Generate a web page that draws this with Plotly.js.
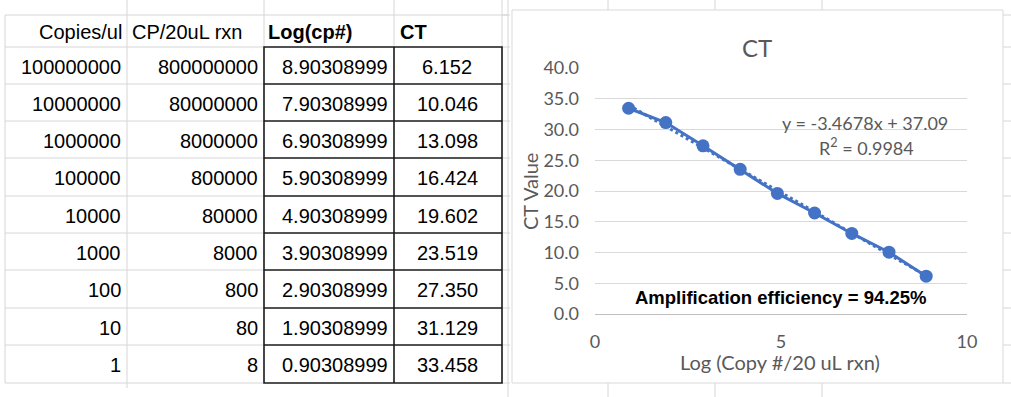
<!DOCTYPE html>
<html>
<head>
<meta charset="utf-8">
<script src="https://cdn.plot.ly/plotly-3.0.1.min.js"></script>
<style>html,body{margin:0;padding:0;background:#fff;}#chart{width:1011px;height:397px;}</style>
</head>
<body>
<div id="chart"></div>
<script>
// ---- data ----
const headers = ["Copies/ul", "CP/20uL rxn", "Log(cp#)", "CT"];
const copiesPerUl = ["100000000", "10000000", "1000000", "100000", "10000", "1000", "100", "10", "1"];
const cpPer20uL = ["800000000", "80000000", "8000000", "800000", "80000", "8000", "800", "80", "8"];
const logCp = [8.90308999, 7.90308999, 6.90308999, 5.90308999, 4.90308999, 3.90308999, 2.90308999, 1.90308999, 0.90308999];
const ctValues = [6.152, 10.046, 13.098, 16.424, 19.602, 23.519, 27.350, 31.129, 33.458];
const trendSlope = -3.4678;
const trendIntercept = 37.09;
const rSquared = "0.9984";
const efficiencyText = "Amplification efficiency = 94.25%";
const chartTitle = "CT";
const xTitle = "Log (Copy #/20 uL rxn)";
const yTitle = "CT Value";

// ---- layout helpers (pixel -> paper) ----
const W = 1011, H = 397;
const X = p => p / W;
const Y = p => 1 - p / H;

const rowEdges = [15, 47, 84, 121, 158, 196, 233, 270, 308, 345, 383];
const colEdges = [5, 127, 264, 394, 502];
const gridC = "#d6d6d6";
const blk = "#1a1a1a";

const shapes = [];
function line(x0, y0, x1, y1, color, width) {
  shapes.push({type: "line", xref: "paper", yref: "paper", x0: X(x0), y0: Y(y0), x1: X(x1), y1: Y(y1),
    line: {color: color, width: width}, layer: "below"});
}
// spreadsheet light gridlines
rowEdges.forEach((e, i) => {
  line(colEdges[0], e, i === 0 ? 508 : colEdges[2], e, gridC, 1);
  line(colEdges[4], e, 510, e, gridC, 1);
  line(1003, e, W, e, gridC, 1);
});
line(colEdges[0], rowEdges[0], colEdges[0], rowEdges[10], gridC, 1);
line(colEdges[1], 0, colEdges[1], 388, gridC, 1);
line(colEdges[2], 0, colEdges[2], rowEdges[1], gridC, 1);
line(colEdges[3], 0, colEdges[3], rowEdges[1], gridC, 1);
line(colEdges[4], 0, colEdges[4], rowEdges[1], gridC, 1);
line(508, 0, 508, H, gridC, 1);
[608, 715, 822].forEach(x => { line(x, 0, x, 10, gridC, 1); line(x, 383, x, H, gridC, 1); });
// black bordered block (columns 3-4)
shapes.push({type: "rect", xref: "paper", yref: "paper", x0: X(colEdges[2]), x1: X(colEdges[4]), y0: Y(rowEdges[1]), y1: Y(rowEdges[10]),
  line: {color: blk, width: 1.6}, fillcolor: "rgba(0,0,0,0)"});
for (let i = 2; i < rowEdges.length - 1; i++) {
  shapes.push({type: "line", xref: "paper", yref: "paper", x0: X(colEdges[2]), x1: X(colEdges[4]), y0: Y(rowEdges[i]), y1: Y(rowEdges[i]),
    line: {color: blk, width: 1.6}});
}
shapes.push({type: "line", xref: "paper", yref: "paper", x0: X(colEdges[3]), x1: X(colEdges[3]), y0: Y(rowEdges[1]), y1: Y(rowEdges[10]),
  line: {color: blk, width: 1.6}});
// chart frame
shapes.push({type: "rect", xref: "paper", yref: "paper", x0: X(512), x1: X(1003), y0: Y(10), y1: Y(383),
  line: {color: "#d9d9d9", width: 1}, fillcolor: "rgba(0,0,0,0)", layer: "below"});

// ---- table text ----
const annotations = [];
const tFont = {family: "Liberation Sans, Arial, sans-serif", size: 20, color: "#000"};
const tBold = {family: "Liberation Sans, Arial, sans-serif", size: 20, color: "#000", weight: "bold"};
function txt(text, x, y, anchor, font) {
  annotations.push({text: text, xref: "paper", yref: "paper", x: X(x), y: Y(y), xanchor: anchor, yanchor: "middle",
    showarrow: false, font: font});
}
txt(headers[0], 124, 32, "right", tFont);
txt(headers[1], 130, 32, "left", tFont);
txt("<b>" + headers[2] + "</b>", 266, 32, "left", tBold);
txt("<b>" + headers[3] + "</b>", 398, 32, "left", tBold);
for (let i = 0; i < copiesPerUl.length; i++) {
  const yc = (rowEdges[i + 1] + rowEdges[i + 2]) / 2 + 1;
  txt(copiesPerUl[i], 123, yc, "right", tFont);
  txt(cpPer20uL[i], 260, yc, "right", tFont);
  txt(logCp[i].toFixed(8), 390, yc, "right", tFont);
  txt(ctValues[i].toFixed(3), 447, yc, "center", tFont);
}

// ---- chart text ----
const cFont = (s, c) => ({family: "Lato, Carlito, sans-serif", size: s, color: c || "#595959"});
txt(chartTitle, 757, 47, "center", cFont(24));
annotations.push({text: yTitle, xref: "paper", yref: "paper", x: X(530), y: Y(192), xanchor: "center", yanchor: "middle",
  textangle: -90, showarrow: false, font: cFont(20)});
txt(xTitle, 780, 362, "center", cFont(20));
txt("y = " + trendSlope + "x + " + trendIntercept, 865, 123, "center", cFont(18));
txt("R<sup>2</sup> = " + rSquared, 866, 147, "center", cFont(18));
txt("<b>" + efficiencyText + "</b>", 780, 297, "center", {family: "Liberation Sans, Arial, sans-serif", size: 18.5, color: "#000", weight: "bold"});

// ---- traces ----
const xMin = Math.min(...logCp), xMax = Math.max(...logCp);
const trend = {
  x: [xMin, xMax], y: [trendSlope * xMin + trendIntercept, trendSlope * xMax + trendIntercept],
  mode: "lines", line: {color: "#4472C4", width: 3, dash: "dot"}, hoverinfo: "skip", showlegend: false
};
const series = {
  x: logCp, y: ctValues, mode: "lines+markers",
  line: {color: "#4472C4", width: 3}, marker: {color: "#4472C4", size: 13},
  showlegend: false
};

const layout = {
  width: W, height: H, margin: {l: 0, r: 0, t: 0, b: 0},
  paper_bgcolor: "#fff", plot_bgcolor: "rgba(0,0,0,0)",
  xaxis: {domain: [X(595), X(967)], range: [0, 10], dtick: 5, tick0: 0, showgrid: false, zeroline: false,
    showline: true, linecolor: "#bfbfbf", linewidth: 1, ticks: "", ticklabelstandoff: 11,
    tickfont: cFont(18), fixedrange: true},
  yaxis: {domain: [Y(314), Y(68)], range: [0, 40], dtick: 5, tick0: 0, tickformat: ".1f", showgrid: true,
    gridcolor: "#d9d9d9", gridwidth: 1, zeroline: false, showline: false, ticks: "", ticklabelstandoff: 15,
    tickfont: cFont(18), fixedrange: true},
  shapes: shapes, annotations: annotations
};

Plotly.newPlot("chart", [trend, series], layout, {displayModeBar: false, staticPlot: true});
</script>
</body>
</html>
